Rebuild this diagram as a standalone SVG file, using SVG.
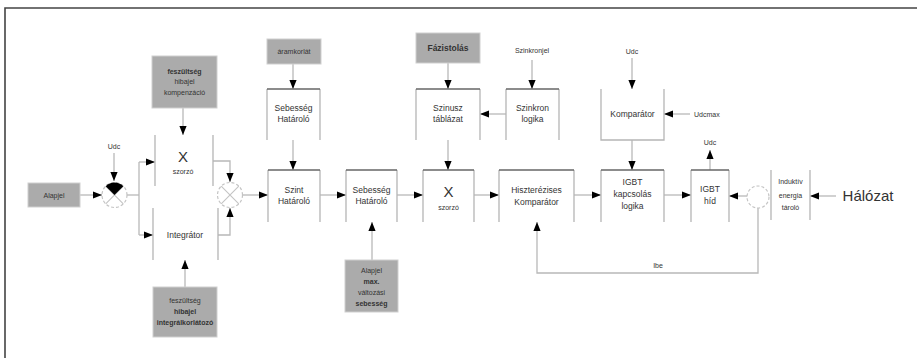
<svg xmlns="http://www.w3.org/2000/svg" width="917" height="358" viewBox="0 0 917 358">
<defs>
<marker id="ah" viewBox="0 0 10 8" refX="10" refY="4" markerWidth="9" markerHeight="7.5" markerUnits="userSpaceOnUse" orient="auto">
<path d="M0,0 L10,4 L0,8 z" fill="#000"/>
</marker>
</defs>
<style>
text{font-family:"Liberation Sans",Arial,sans-serif;fill:#333;text-anchor:middle}
.t{font-size:8.5px}
.s{font-size:7px}
.b{font-weight:bold}
.side{fill:none;stroke:#b5b5b5;stroke-width:1.3}
.top{fill:none;stroke:#666;stroke-width:1.6}
.gray{fill:#ababab;stroke:#cfcfcf;stroke-width:1}
.c{fill:none;stroke:#b8b8b8;stroke-width:1.3}
.a{marker-end:url(#ah)}
.j{fill:none;stroke:#c4c4c4;stroke-width:1.2;stroke-dasharray:3 2}
</style>
<rect width="917" height="358" fill="#fff"/>
<path d="M5,358 V8 H917" fill="none" stroke="#444" stroke-width="1.6"/>

<g id="connectors">
<path class="c a" d="M80,195 H102"/>
<path class="c a" d="M114,153 V181"/>
<path class="c" d="M127,195 H139"/>
<path class="c" d="M139,162 V235"/>
<path class="c a" d="M139,162 H155"/>
<path class="c a" d="M139,235 H153"/>
<path class="c a" d="M183,108 V135"/>
<path class="c a" d="M185,287 V260"/>
<path class="c a" d="M213,161 H230 V182"/>
<path class="c a" d="M218,235 H230 V208"/>
<path class="c a" d="M243,195 H268"/>
<path class="c a" d="M293,64 V89"/>
<path class="c a" d="M293,140 V170"/>
<path class="c a" d="M320,195 H346"/>
<path class="c a" d="M372,260 V222"/>
<path class="c a" d="M397,195 H423"/>
<path class="c a" d="M448,63 V89"/>
<path class="c a" d="M448,140 V170"/>
<path class="c a" d="M532,60 V89"/>
<path class="c a" d="M506,114 H480"/>
<path class="c a" d="M474,195 H499"/>
<path class="c a" d="M574,195 H601"/>
<path class="c a" d="M632,58 V89"/>
<path class="c a" d="M690,114 H664"/>
<path class="c a" d="M632,140 V170"/>
<path class="c a" d="M664,195 H691"/>
<path class="c a" d="M710,170 V150"/>
<path class="c a" d="M747,196 H729"/>
<path class="c a" d="M836,196 H810"/>
<path class="c a" d="M758,208 V273 H537 V222"/>
<text class="s" x="114" y="149">Udc</text>
<text class="s" x="532" y="53">Szinkronjel</text>
<text class="s" x="632" y="54">Udc</text>
<text class="s" x="708" y="117" style="text-anchor:start" transform="translate(-14,0)">Udcmax</text>
<text class="s" x="710" y="145">Udc</text>
<text class="s" x="658" y="268">Ibe</text>
</g>

<g id="alapjel">
<rect class="gray" x="28" y="183" width="52" height="24"/>
<text class="s" x="54" y="198">Alapjel</text>
</g>

<g id="osszegzo1">
<circle class="j" cx="114.5" cy="195" r="12.5"/>
<path d="M105.7,186.2 L123.3,203.8 M123.3,186.2 L105.7,203.8" stroke="#c4c4c4" stroke-width="1.1"/>
<path d="M114.5,195 L105.7,186.2 A12.5,12.5 0 0 1 123.3,186.2 Z" fill="#000"/>
</g>

<g id="fesz-komp">
<rect class="gray" x="152" y="56" width="65" height="52"/>
<text class="s b" x="184.5" y="74">feszültség</text>
<text class="s" x="184.5" y="84">hibajel</text>
<text class="s" x="184.5" y="95">kompenzáció</text>
</g>

<g id="szorzo1">
<path class="side" d="M155,135 V186 M213,135 V186"/>
<text x="183" y="162" style="font-size:15px">X</text>
<text class="s" x="183" y="174">szorzó</text>
</g>

<g id="integrator">
<path class="side" d="M153,208 V260 M218,208 V260"/>
<text class="t" x="185" y="238">Integrátor</text>
</g>

<g id="fesz-int">
<rect class="gray" x="153" y="287" width="64" height="50"/>
<text class="s" x="185" y="303">feszültség</text>
<text class="s b" x="185" y="314">hibajel</text>
<text class="s b" x="185" y="325">integrálkorlátozó</text>
</g>

<g id="osszegzo2">
<circle class="j" cx="230" cy="195" r="12.5"/>
<path d="M221.2,186.2 L238.8,203.8 M238.8,186.2 L221.2,203.8" stroke="#c4c4c4" stroke-width="1.1"/>
</g>

<g id="szint">
<path class="side" d="M268,170 V222 M320,170 V222"/>
<path class="top" d="M268,170 H320"/>
<text class="t" x="294" y="193">Szint</text>
<text class="t" x="294" y="204">Határoló</text>
</g>

<g id="aramkorlat">
<rect class="gray" x="267" y="39" width="54" height="25"/>
<text class="s" x="294" y="54">áramkorlát</text>
</g>

<g id="sebesseg1">
<path class="side" d="M267,89 V140 M320,89 V140"/>
<path class="top" d="M267,89 H320"/>
<text class="t" x="293.5" y="111">Sebesség</text>
<text class="t" x="293.5" y="122">Határoló</text>
</g>

<g id="sebesseg2">
<path class="side" d="M346,170 V222 M397,170 V222"/>
<path class="top" d="M346,170 H397"/>
<text class="t" x="371.5" y="193">Sebesség</text>
<text class="t" x="371.5" y="204">Határoló</text>
</g>

<g id="alapjel-seb">
<rect class="gray" x="345" y="260" width="53" height="52"/>
<text class="s" x="371.5" y="273">Alapjel</text>
<text class="s b" x="371.5" y="284">max.</text>
<text class="s" x="371.5" y="295">változási</text>
<text class="s b" x="371.5" y="306">sebesség</text>
</g>

<g id="szorzo2">
<path class="side" d="M423,170 V222 M474,170 V222"/>
<path class="top" d="M423,170 H474"/>
<text x="448.5" y="197" style="font-size:15px">X</text>
<text class="s" x="448.5" y="210">szorzó</text>
</g>

<g id="fazistolas">
<rect class="gray" x="416" y="33" width="64" height="30"/>
<text class="t b" x="448" y="51">Fázistolás</text>
</g>

<g id="szinusz">
<path class="side" d="M416,89 V140 M480,89 V140"/>
<path class="top" d="M416,89 H480"/>
<text class="t" x="448" y="111">Szinusz</text>
<text class="t" x="448" y="122">táblázat</text>
</g>

<g id="szinkron">
<path class="side" d="M506,89 V140 M559,89 V140"/>
<path class="top" d="M506,89 H559"/>
<text class="t" x="532.5" y="111">Szinkron</text>
<text class="t" x="532.5" y="122">logika</text>
</g>

<g id="hiszterezis">
<path class="side" d="M499,170 V222 M574,170 V222"/>
<path class="top" d="M499,170 H574"/>
<text class="t" x="536.5" y="193">Hiszterézises</text>
<text class="t" x="536.5" y="205">Komparátor</text>
</g>

<g id="komparator">
<path class="side" d="M601,89 V140 H664 V89"/>
<text class="t" x="632.5" y="117">Komparátor</text>
</g>

<g id="igbt-logika">
<path class="side" d="M601,170 V222 M664,170 V222"/>
<path class="top" d="M601,170 H664"/>
<text class="t" x="632.5" y="185">IGBT</text>
<text class="t" x="632.5" y="197">kapcsolás</text>
<text class="t" x="632.5" y="209">logika</text>
</g>

<g id="igbt-hid">
<path class="side" d="M691,170 V222 M729,170 V222"/>
<path class="top" d="M691,170 H729"/>
<text class="t" x="710" y="192">IGBT</text>
<text class="t" x="710" y="204">híd</text>
</g>

<g id="arammero">
<circle class="j" cx="758" cy="197" r="11"/>
</g>

<g id="induktiv">
<path class="side" d="M771,170 V220 M810,170 V220"/>
<text class="s" x="790.5" y="184">Induktív</text>
<text class="s" x="790.5" y="198">energia</text>
<text class="s" x="790.5" y="210">tároló</text>
</g>

<g id="halozat">
<text x="868" y="201" style="font-size:15px">Hálózat</text>
</g>
</svg>
